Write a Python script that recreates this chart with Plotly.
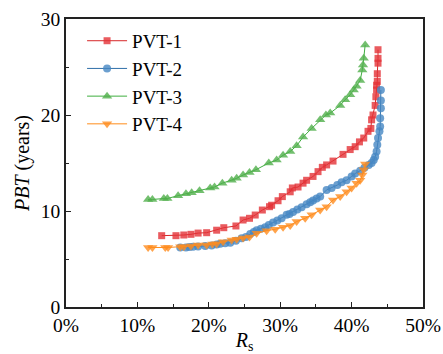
import plotly.graph_objects as go

# PVT-1 (red squares)
pvt1_x = [13.4,15.4,16.5,17.5,18.5,19.7,21.1,22.1,23.8,24.8,25.7,26.5,27.5,28.5,28.8,29.7,30.3,31.4,31.7,32.5,33.2,33.7,34.6,35.3,35.9,36.5,37.4,38.8,39.8,40.5,41.1,41.7,42.3,42.7,42.8,43.0,43.3,43.4,43.5,43.5,43.6,43.6,43.7,43.7,43.7]
pvt1_y = [7.43,7.43,7.5,7.57,7.7,7.74,8.0,8.26,8.44,9.06,9.24,9.58,10.1,10.45,10.6,11.07,11.5,12.0,12.4,12.5,12.9,13.2,13.6,14.1,14.55,14.8,15.2,15.9,16.4,16.7,17.2,17.6,18.3,18.6,19.5,20.0,21.0,21.9,22.6,23.1,23.5,24.3,25.4,25.9,26.8]

# PVT-2 (blue circles)
pvt2_x = [16.0,16.8,17.3,17.8,18.5,19.5,20.4,21.1,21.6,22.3,23.0,23.8,24.6,25.2,25.8,26.3,26.7,27.3,27.9,28.4,29.0,29.6,30.2,30.9,31.3,31.8,32.4,33.0,33.7,34.2,34.6,35.1,35.6,36.5,37.2,38.0,38.6,39.3,40.0,40.5,41.2,41.8,42.4,42.8,43.1,43.3,43.5,43.6,43.7,43.9,44.0,44.0,44.1,44.1,44.1]
pvt2_y = [6.2,6.2,6.25,6.28,6.3,6.35,6.4,6.5,6.6,6.65,6.7,6.9,7.15,7.3,7.6,7.8,8.0,8.15,8.3,8.55,8.8,9.0,9.24,9.6,9.7,9.9,10.15,10.4,10.7,10.9,11.1,11.3,11.5,12.2,12.4,12.7,13.0,13.2,13.6,13.9,14.2,14.5,14.8,15.0,15.3,15.65,16.2,16.9,17.6,18.3,18.8,19.65,20.7,21.5,22.6]

# PVT-3 (green triangles)
pvt3_x = [11.5,12.1,13.7,14.2,15.7,16.8,17.6,18.7,20.2,20.8,21.9,23.2,23.9,24.8,25.7,26.6,28.4,29.5,30.4,31.4,32.3,33.2,34.4,35.6,36.4,37.0,38.4,39.1,39.8,40.3,40.7,41.2,41.5,41.6,41.7,41.9]
pvt3_y = [11.2,11.2,11.3,11.3,11.6,11.8,11.9,12.1,12.4,12.5,12.9,13.2,13.4,13.75,14.0,14.3,15.0,15.3,15.8,16.2,16.8,17.7,18.6,19.5,20.0,20.2,21.0,21.6,22.1,22.6,23.0,23.6,24.7,25.2,25.9,27.3]

# PVT-4 (orange down-triangles)
pvt4_x = [11.5,12.1,13.9,14.3,16.0,16.5,17.5,18.5,19.7,20.5,21.1,22.0,23.2,23.9,24.8,25.7,26.7,28.1,29.3,30.4,31.4,32.3,33.5,34.4,35.6,36.5,37.4,38.4,39.3,40.0,40.7,41.2,41.5,41.7,41.9]
pvt4_y = [6.2,6.2,6.2,6.2,6.28,6.28,6.35,6.46,6.46,6.56,6.6,6.8,6.98,7.05,7.2,7.3,7.67,7.95,8.1,8.3,8.5,8.9,9.24,9.6,10.1,10.45,11.15,11.5,12.0,12.4,12.9,13.2,13.75,14.3,14.9]

series_names = ["PVT-1", "PVT-2", "PVT-3", "PVT-4"]
x_ticks = [0, 10, 20, 30, 40, 50]
y_ticks = [0, 10, 20, 30]

styles = [
    dict(line="#d62728", marker="rgba(228,50,55,0.8)", symbol="square", size=7),
    dict(line="#2f6fa8", marker="rgba(70,135,195,0.8)", symbol="circle", size=8),
    dict(line="#3fae3f", marker="rgba(80,175,75,0.8)", symbol="triangle-up", size=9),
    dict(line="#ff8c1a", marker="rgba(255,140,30,0.8)", symbol="triangle-down", size=9),
]

data = [(pvt1_x, pvt1_y), (pvt2_x, pvt2_y), (pvt3_x, pvt3_y), (pvt4_x, pvt4_y)]

fig = go.Figure()
for (xs, ys), name, st in zip(data, series_names, styles):
    fig.add_trace(go.Scatter(
        x=xs, y=ys, name=name, mode="lines+markers",
        line=dict(color=st["line"], width=1),
        marker=dict(color=st["marker"], symbol=st["symbol"], size=st["size"],
                    line=dict(width=0)),
    ))

font_family = "Liberation Serif, Times New Roman, serif"
fig.update_layout(
    width=443, height=354,
    margin=dict(l=66, r=20, t=19, b=47),
    paper_bgcolor="white", plot_bgcolor="white",
    font=dict(family=font_family, size=19, color="black"),
    showlegend=True,
    legend=dict(x=0.045, y=0.99, xanchor="left", yanchor="top",
                bgcolor="rgba(0,0,0,0)", font=dict(size=19, family=font_family),
                tracegroupgap=0, itemwidth=40),
)
fig.update_xaxes(
    range=[0, 50], tickvals=x_ticks, ticktext=[f"{v}%" for v in x_ticks],
    showgrid=False, zeroline=False, automargin=False,
    showline=True, linecolor="#222", linewidth=1.5, mirror=True,
    ticks="inside", ticklen=5, tickwidth=1.2, tickcolor="#222",
    minor=dict(ticks="inside", ticklen=3, dtick=5, tickcolor="#222", tickwidth=1, showgrid=False),
    title=dict(text="<i>R</i><sub>s</sub>", font=dict(size=20, family=font_family), standoff=0),
    tickfont=dict(size=19.5, family=font_family),
)
fig.update_yaxes(
    range=[0, 30], tickvals=y_ticks,
    showgrid=False, zeroline=False, automargin=False,
    showline=True, linecolor="#222", linewidth=1.5, mirror=True,
    ticks="inside", ticklen=5, tickwidth=1.2, tickcolor="#222",
    minor=dict(ticks="inside", ticklen=3, dtick=5, tickcolor="#222", tickwidth=1, showgrid=False),
    title=dict(text="<i>PBT</i> (years)", font=dict(size=20, family=font_family), standoff=6),
    tickfont=dict(size=19.5, family=font_family),
)

fig.write_html("out.html")
